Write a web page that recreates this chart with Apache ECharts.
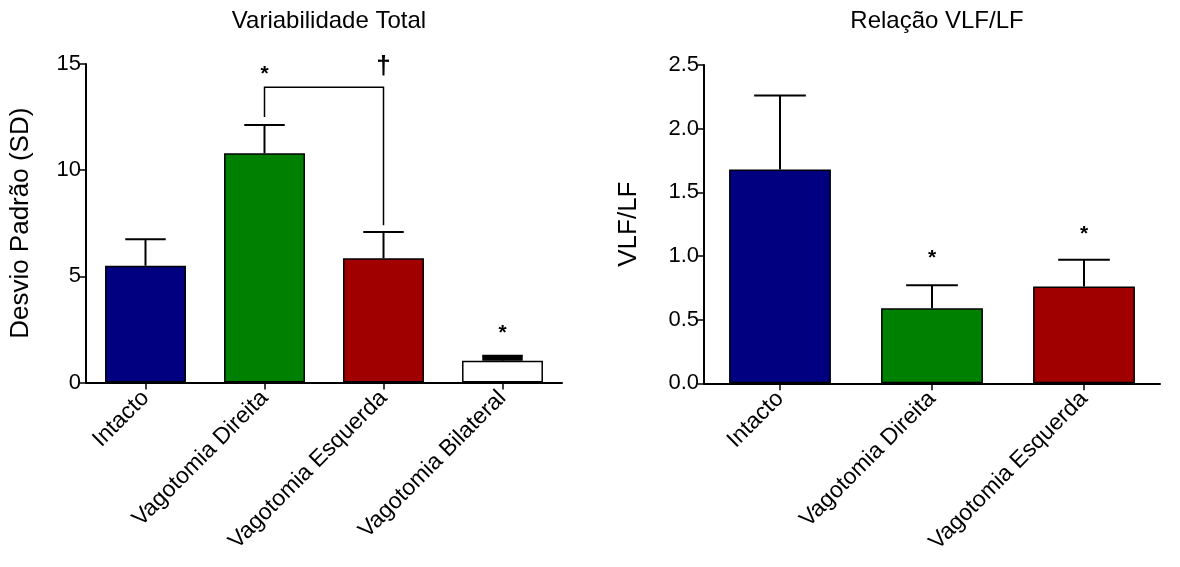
<!DOCTYPE html>
<html>
<head>
<meta charset="utf-8">
<script src="https://cdn.jsdelivr.net/npm/echarts@6/dist/echarts.min.js"></script>
<style>
  html, body { margin: 0; padding: 0; background: #fff; }
  #chart { width: 1180px; height: 567px; }
</style>
</head>
<body>
<div id="chart"></div>
<script>
// Variabilidade Total (desvio padrão) por grupo
const sdCategories = ['Intacto', 'Vagotomia Direita', 'Vagotomia Esquerda', 'Vagotomia Bilateral'];
const sdMeans = [5.5, 10.8, 5.85, 1.03];
const sdErrors = [1.25, 1.33, 1.24, 0.23];
const sdColors = ['#000080', '#008000', '#A00000', '#FFFFFF'];
const sdTicks = [0, 5, 10, 15];

// Relação VLF/LF por grupo
const vlfCategories = ['Intacto', 'Vagotomia Direita', 'Vagotomia Esquerda'];
const vlfMeans = [1.68, 0.59, 0.76];
const vlfErrors = [0.58, 0.18, 0.21];
const vlfColors = ['#000080', '#008000', '#A00000'];
const vlfTicks = [0, 0.5, 1.0, 1.5, 2.0, 2.5];

// Marcas de significância: [categoria, altura, texto]
const sdMarks = [[1, 14.5, '*'], [1.5, 14.85, '†'], [3, 2.3, '*']];
const vlfMarks = [[1, 0.98, '*'], [2, 1.17, '*']];
// Colchete de comparação Direita × Esquerda: [de, até, yInicio, yTopo, yFim]
const sdBracket = [[1, 2, 12.5, 13.9, 7.4]];

const FONT = 'Liberation Sans, Arial, sans-serif';
const AXIS_COLOR = '#000';

function errorBarRender(params, api) {
  const x = api.value(0), mean = api.value(1), err = api.value(2);
  const base = api.coord([x, mean]);
  const top = api.coord([x, mean + err]);
  const band = api.size([1, 0])[0];
  const half = band * 0.17;
  const style = { stroke: '#000', lineWidth: 2 };
  const children = [
    { type: 'line', shape: { x1: base[0], y1: base[1], x2: top[0], y2: top[1] }, style },
    { type: 'line', shape: { x1: top[0] - half, y1: top[1], x2: top[0] + half, y2: top[1] }, style }
  ];
  // very short bars: cap and stem merge into a solid block
  if (base[1] - top[1] < 8) {
    children.push({ type: 'rect', shape: { x: top[0] - half, y: top[1], width: 2 * half, height: base[1] - top[1] }, style: { fill: '#000' } });
  }
  return { type: 'group', children };
}

function bracketRender(params, api) {
  const p1 = api.coord([api.value(0), api.value(2)]);
  const p2 = api.coord([api.value(0), api.value(3)]);
  const p3 = api.coord([api.value(1), api.value(3)]);
  const p4 = api.coord([api.value(1), api.value(4)]);
  return {
    type: 'polyline',
    shape: { points: [p1, p2, p3, p4] },
    style: { stroke: '#000', lineWidth: 1.5, fill: null }
  };
}

const markTexts = {};

function markRender(params, api) {
  const p = api.coord([api.value(0), api.value(1)]);
  const t = markTexts[params.seriesIndex][params.dataIndex];
  return {
    type: 'text',
    x: p[0], y: p[1],
    style: { text: t, fill: '#000', font: (t === '†' ? 'bold 26px ' : 'bold 21px ') + FONT, align: 'center', verticalAlign: 'middle' }
  };
}

function barData(values, colors) {
  return values.map((v, i) => ({
    value: v,
    itemStyle: { color: colors[i], borderColor: '#000', borderWidth: 1.5 }
  }));
}

const yAxisCommon = {
  type: 'value',
  min: 0,
  axisLine: { show: true, lineStyle: { color: AXIS_COLOR, width: 2 } },
  axisTick: { show: true, length: 6, lineStyle: { color: AXIS_COLOR, width: 1.5 } },
  splitLine: { show: false },
  axisLabel: { color: '#000', fontSize: 22, fontFamily: FONT, margin: 5 },
  nameLocation: 'middle',
  nameTextStyle: { color: '#000', fontSize: 26, fontFamily: FONT }
};

const xAxisCommon = {
  type: 'category',
  axisLine: { show: true, lineStyle: { color: AXIS_COLOR, width: 2 } },
  axisTick: { show: true, alignWithLabel: true, length: 7, lineStyle: { color: AXIS_COLOR, width: 1.5 } },
  axisLabel: { color: '#000', fontSize: 23, fontFamily: FONT, rotate: 45, margin: 12, interval: 0 }
};

const chart = echarts.init(document.getElementById('chart'), null, { renderer: 'canvas' });

const series = [
  { type: 'bar', xAxisIndex: 0, yAxisIndex: 0, barWidth: '68%', data: barData(sdMeans, sdColors), z: 2 },
  { type: 'custom', xAxisIndex: 0, yAxisIndex: 0, renderItem: errorBarRender,
    data: sdMeans.map((m, i) => [i, m, sdErrors[i]]), encode: { x: 0, y: 1 }, z: 3 },
  { type: 'custom', xAxisIndex: 0, yAxisIndex: 0, renderItem: bracketRender,
    data: sdBracket, encode: { x: [0, 1], y: [2, 3, 4] }, z: 3 },
  { type: 'custom', xAxisIndex: 0, yAxisIndex: 0, renderItem: markRender,
    data: sdMarks.map(m => [m[0], m[1]]), encode: { x: 0, y: 1 }, z: 4 },
  { type: 'bar', xAxisIndex: 1, yAxisIndex: 1, barWidth: '67%', data: barData(vlfMeans, vlfColors), z: 2 },
  { type: 'custom', xAxisIndex: 1, yAxisIndex: 1, renderItem: errorBarRender,
    data: vlfMeans.map((m, i) => [i, m, vlfErrors[i]]), encode: { x: 0, y: 1 }, z: 3 },
  { type: 'custom', xAxisIndex: 1, yAxisIndex: 1, renderItem: markRender,
    data: vlfMarks.map(m => [m[0], m[1]]), encode: { x: 0, y: 1 }, z: 4 }
];
markTexts[3] = sdMarks.map(m => m[2]);
markTexts[6] = vlfMarks.map(m => m[2]);

chart.setOption({
  animation: false,
  backgroundColor: '#fff',
  title: [
    { text: 'Variabilidade Total', left: 324, top: 4, textAlign: 'center',
      textStyle: { color: '#000', fontSize: 24, fontWeight: 'normal', fontFamily: FONT } },
    { text: 'Relação VLF/LF', left: 932, top: 4, textAlign: 'center',
      textStyle: { color: '#000', fontSize: 24, fontWeight: 'normal', fontFamily: FONT } }
  ],
  grid: [
    { left: 86, top: 64, width: 476, height: 318.5 },
    { left: 704, top: 65, width: 456, height: 318.3 }
  ],
  xAxis: [
    Object.assign({}, xAxisCommon, { gridIndex: 0, data: sdCategories }),
    Object.assign({}, xAxisCommon, { gridIndex: 1, data: vlfCategories })
  ],
  yAxis: [
    Object.assign({}, yAxisCommon, { gridIndex: 0, max: sdTicks[sdTicks.length - 1], interval: 5,
      name: 'Desvio Padrão (SD)', nameGap: 52 }),
    Object.assign({}, yAxisCommon, { gridIndex: 1, max: vlfTicks[vlfTicks.length - 1], interval: 0.5,
      name: 'VLF/LF', nameGap: 62,
      axisLabel: Object.assign({}, yAxisCommon.axisLabel, { formatter: v => v.toFixed(1) }) })
  ],
  series
});
</script>
</body>
</html>
